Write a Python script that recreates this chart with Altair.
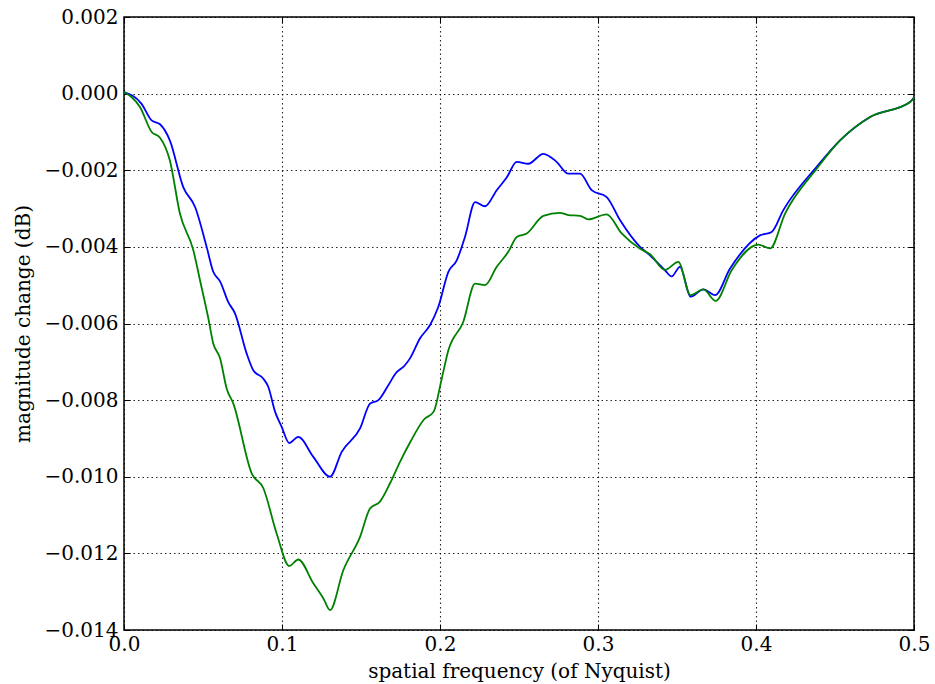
import altair as alt
import pandas as pd

# ---- data ----
blue_x = [0.000, 0.011, 0.0175, 0.0228, 0.029, 0.0375, 0.045, 0.0523, 0.0565, 0.0608,
          0.066, 0.0703, 0.0776, 0.0818, 0.0882, 0.0913, 0.0956, 0.0998, 0.1046, 0.1103,
          0.1198, 0.1304, 0.1378, 0.1494, 0.1557, 0.161, 0.1673, 0.1720, 0.1778, 0.181,
          0.1873, 0.1937, 0.1989, 0.2053, 0.2106, 0.2158, 0.2222, 0.2285, 0.2359, 0.2422,
          0.2486, 0.2559, 0.2654, 0.2738, 0.2812, 0.2886, 0.296, 0.3055, 0.3139, 0.3266,
          0.3329, 0.3424, 0.3466, 0.3519, 0.3586, 0.3667, 0.3741, 0.3835, 0.4025, 0.4099,
          0.4173, 0.4384, 0.4532, 0.4722, 0.4975, 0.500]
blue_y = [0.00004, -0.00026, -0.0007, -0.0008, -0.00122, -0.00244, -0.00296, -0.0040, -0.00465, -0.0049,
          -0.00544, -0.00574, -0.00678, -0.00722, -0.00744, -0.00765, -0.0083, -0.0087, -0.00912, -0.00896,
          -0.00948, -0.0100, -0.00935, -0.00874, -0.00809, -0.0080, -0.00761, -0.0073, -0.00709, -0.00691,
          -0.00639, -0.00604, -0.00557, -0.00465, -0.00435, -0.00374, -0.00283, -0.00294, -0.00252, -0.00219,
          -0.00178, -0.00183, -0.00157, -0.00178, -0.00209, -0.00209, -0.00252, -0.0027, -0.0033, -0.0040,
          -0.00422, -0.00461, -0.00477, -0.00452, -0.0053, -0.00511, -0.00526, -0.00457, -0.0037, -0.00361,
          -0.00304, -0.00191, -0.00122, -0.00061, -0.00022, -0.0001]

green_x = [0.000, 0.0101, 0.0175, 0.0228, 0.029, 0.0354, 0.0439, 0.0481, 0.0534, 0.0565,
           0.0608, 0.065, 0.0692, 0.0808, 0.0882, 0.0966, 0.1046, 0.1103, 0.1198, 0.1261,
           0.1304, 0.1388, 0.1494, 0.1557, 0.162, 0.1684, 0.1747, 0.1811, 0.190, 0.1960,
           0.2011, 0.2053, 0.2147, 0.2222, 0.2285, 0.2359, 0.2432, 0.2486, 0.2549, 0.2654,
           0.2759, 0.2812, 0.2886, 0.2939, 0.3055, 0.315, 0.3266, 0.3329, 0.3424, 0.3508,
           0.3586, 0.3667, 0.3745, 0.3846, 0.4015, 0.4089, 0.4184, 0.4384, 0.4532, 0.4722,
           0.4975, 0.500]
green_y = [0.00004, -0.00035, -0.0010, -0.00115, -0.00174, -0.00313, -0.00409, -0.00487, -0.00587, -0.00652,
           -0.00691, -0.0077, -0.00809, -0.00991, -0.0103, -0.01148, -0.01233, -0.01216, -0.01278, -0.01317,
           -0.01348, -0.01244, -0.01157, -0.01083, -0.01065, -0.01017, -0.00961, -0.0091, -0.0085, -0.0083,
           -0.00744, -0.0067, -0.00596, -0.00496, -0.0050, -0.00452, -0.00413, -0.00374, -0.00365, -0.00319,
           -0.00311, -0.00317, -0.00319, -0.00328, -0.00315, -0.00365, -0.00405, -0.00419, -0.0046, -0.00439,
           -0.00526, -0.00511, -0.00541, -0.00461, -0.00394, -0.00404, -0.00313, -0.00196, -0.00122, -0.00061,
           -0.00022, -0.0001]

x_ticks = [0.0, 0.1, 0.2, 0.3, 0.4, 0.5]
y_ticks = [0.002, 0.000, -0.002, -0.004, -0.006, -0.008, -0.010, -0.012, -0.014]

x_title = "spatial frequency (of Nyquist)"
y_title = "magnitude change (dB)"

W, H = 790, 613
FONT = "DejaVu Serif"

blue_df = pd.DataFrame({"x": blue_x, "y": blue_y})
green_df = pd.DataFrame({"x": green_x, "y": green_y})

xs = alt.Scale(domain=[0, 0.5], nice=False, zero=False)
ys = alt.Scale(domain=[-0.014, 0.002], nice=False, zero=False)

grid_style = dict(grid=True, gridColor="#000000", gridDash=[1.5, 3], gridWidth=1.1, gridOpacity=0.85)
label_style = dict(labelFont=FONT, labelFontSize=20, labelColor="black",
                   titleFont=FONT, titleFontSize=20, titleColor="black", titleFontWeight="normal")

# main axes (labels + grid, no ticks)
x_main = alt.Axis(orient="bottom", values=x_ticks, format=".1f", title=x_title, ticks=False,
                  domain=False, labelPadding=4, titlePadding=7, labelFlush=False, **grid_style, **label_style)
y_main = alt.Axis(orient="left", values=y_ticks, format=".3f", title=y_title, ticks=False,
                  domain=False, labelPadding=6, titlePadding=10, **grid_style, **label_style)


def tick_axis(orient, offset, values):
    return alt.Axis(orient=orient, offset=offset, values=values, labels=False, title=None,
                    grid=False, domain=False, ticks=True, tickSize=6, tickColor="black", tickWidth=1)


blue = alt.Chart(blue_df).mark_line(color="#0000ff", strokeWidth=1.8, interpolate="monotone").encode(
    x=alt.X("x:Q", scale=xs, axis=x_main),
    y=alt.Y("y:Q", scale=ys, axis=y_main),
)

green = alt.Chart(green_df).mark_line(color="#008000", strokeWidth=1.8, interpolate="monotone").encode(
    x=alt.X("x:Q", scale=xs, axis=tick_axis("top", -H, x_ticks)),
    y=alt.Y("y:Q", scale=ys, axis=tick_axis("right", -W, y_ticks)),
)

ghost = alt.Chart(green_df).mark_line(strokeOpacity=0).encode(
    x=alt.X("x:Q", scale=xs, axis=tick_axis("bottom", -H, x_ticks)),
    y=alt.Y("y:Q", scale=ys, axis=tick_axis("left", -W, y_ticks)),
)

chart = alt.layer(blue, green, ghost).resolve_scale(
    x="independent", y="independent"
).properties(
    width=W, height=H,
    autosize=alt.AutoSizeParams(type="none"),
    padding={"left": 124, "top": 17, "right": 21, "bottom": 54},
    background="white",
).configure_view(stroke="black", strokeWidth=1.5)

chart.save("out.html", embed_options={"renderer": "svg", "actions": False})
